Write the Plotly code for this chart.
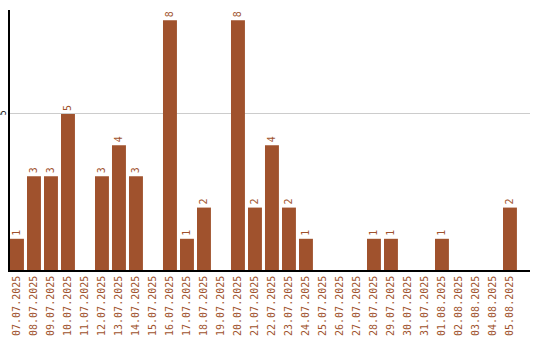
import plotly.graph_objects as go

dates = ["07.07.2025", "08.07.2025", "09.07.2025", "10.07.2025", "11.07.2025",
         "12.07.2025", "13.07.2025", "14.07.2025", "15.07.2025", "16.07.2025",
         "17.07.2025", "18.07.2025", "19.07.2025", "20.07.2025", "21.07.2025",
         "22.07.2025", "23.07.2025", "24.07.2025", "25.07.2025", "26.07.2025",
         "27.07.2025", "28.07.2025", "29.07.2025", "30.07.2025", "31.07.2025",
         "01.08.2025", "02.08.2025", "03.08.2025", "04.08.2025", "05.08.2025"]
counts = [1, 3, 3, 5, 0, 3, 4, 3, 0, 8, 1, 2, 0, 8, 2, 4, 2, 1, 0, 0, 0, 1, 1, 0, 0, 1, 0, 0, 0, 2]

color = "#A0522D"
labels = [str(v) if v > 0 else "" for v in counts]

fig = go.Figure(go.Bar(
    x=dates, y=counts, marker_color=color, marker_line_width=0,
    text=labels, textposition="outside", textangle=-90,
    textfont=dict(family="DejaVu Sans Mono", size=10, color=color),
    cliponaxis=False,
))
fig.update_layout(
    width=540, height=340,
    margin=dict(l=10, r=10, t=10, b=70),
    paper_bgcolor="white", plot_bgcolor="white",
    bargap=0.18, showlegend=False,
    xaxis=dict(range=[-0.41, 30.18], tickangle=-90, showline=True, linecolor="black",
               linewidth=1.5, showgrid=False, ticks="", automargin=False,
               tickfont=dict(family="DejaVu Sans Mono", size=10, color=color)),
    yaxis=dict(range=[0, 8.33], tickvals=[5], ticktext=["5"], tickangle=-90,
               showline=True, linecolor="black", linewidth=1.5, automargin=False,
               showgrid=True, gridcolor="#cccccc", gridwidth=1, zeroline=False,
               ticks="", ticklen=0, ticklabelstandoff=-1,
               tickfont=dict(family="DejaVu Sans Mono", size=8, color="black")),
)
fig.write_html("out.html")
